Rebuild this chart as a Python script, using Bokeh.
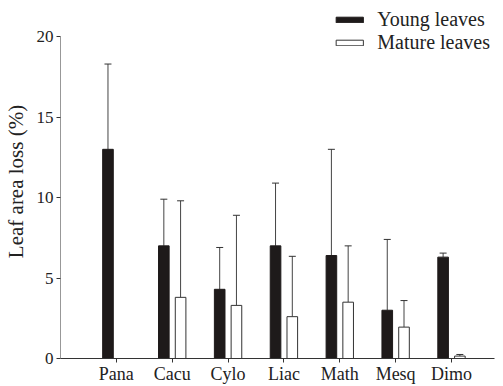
from bokeh.plotting import figure
from bokeh.models import (ColumnDataSource, Whisker, TeeHead, FixedTicker, Legend, LegendItem, Range1d)
from bokeh.embed import file_html
from bokeh.resources import INLINE
import numpy as np

categories = ["Pana", "Cacu", "Cylo", "Liac", "Math", "Mesq", "Dimo"]
young_mean = [13.0, 7.0, 4.3, 7.0, 6.4, 3.0, 6.3]
young_upper = [18.3, 9.9, 6.9, 10.9, 13.0, 7.4, 6.55]
mature_mean = [np.nan, 3.8, 3.3, 2.6, 3.5, 1.95, 0.15]
mature_upper = [np.nan, 9.8, 8.9, 6.35, 7.0, 3.6, 0.25]
y_ticks = [0, 5, 10, 15, 20]

FONT = "Liberation Serif"
AX = "#333333"
xs = list(range(len(categories)))
off = 0.15
bw = 0.19
X0, X1 = -1.0, 6.77

src_y = ColumnDataSource(dict(x=[i - off for i in xs], top=young_mean, up=young_upper))
src_m = ColumnDataSource(dict(x=[i + off for i in xs], top=mature_mean, up=mature_upper))

p = figure(width=495, height=386, output_backend="svg", toolbar_location=None,
           x_range=Range1d(X0, X1), y_range=Range1d(0, 22.0),
           min_border_left=55, min_border_right=1, min_border_top=4, min_border_bottom=0)
p.outline_line_color = None
p.grid.visible = False
p.background_fill_color = "white"

# y axis line drawn only over the tick span (0..20), as in the reference
p.segment(x0=[X0], y0=[y_ticks[0]], x1=[X0], y1=[y_ticks[-1]], line_color=AX, line_width=1)

ry = p.vbar(x="x", top="top", width=bw, bottom=0, source=src_y, fill_color="#1e1a1a", line_color="#1e1a1a")
rm = p.vbar(x="x", top="top", width=bw, bottom=0, source=src_m, fill_color="white", line_color="#333333", line_width=1)

for src in (src_y, src_m):
    w = Whisker(base="x", upper="up", lower="top", source=src,
                upper_head=TeeHead(size=7, line_color="#333333", line_width=1),
                lower_head=None, line_color="#444444", line_width=1)
    p.add_layout(w)

p.xaxis.ticker = FixedTicker(ticks=xs)
p.xaxis.major_label_overrides = {i: c for i, c in enumerate(categories)}
p.yaxis.ticker = FixedTicker(ticks=y_ticks)
p.xaxis.minor_tick_line_color = None
p.yaxis.minor_tick_line_color = None
for ax in (p.xaxis, p.yaxis):
    ax.major_tick_in = 0
    ax.major_tick_out = 4
    ax.major_tick_line_color = AX
    ax.major_label_text_font = FONT
    ax.major_label_text_color = "#222222"
p.xaxis.axis_line_color = AX
p.yaxis.axis_line_color = None
p.xaxis.major_label_text_font_size = "18px"
p.xaxis.major_label_standoff = 1
p.yaxis.major_label_text_font_size = "17px"
p.yaxis.major_label_standoff = 3
p.yaxis.axis_label = "Leaf area loss (%)"
p.yaxis.axis_label_text_font = FONT
p.yaxis.axis_label_text_font_style = "normal"
p.yaxis.axis_label_text_font_size = "21px"
p.yaxis.axis_label_text_color = "#222222"
p.yaxis.axis_label_standoff = 6

legend = Legend(items=[LegendItem(label="Young leaves", renderers=[ry]),
                       LegendItem(label="Mature leaves", renderers=[rm])],
                location="top_right", glyph_width=34, glyph_height=7, label_height=15,
                label_standoff=11, spacing=-7, padding=0, margin=4,
                label_text_font=FONT, label_text_font_size="20px", label_text_color="#222222",
                border_line_color=None, background_fill_alpha=0)
p.add_layout(legend)

open("out.html", "w").write(file_html(p, INLINE))
